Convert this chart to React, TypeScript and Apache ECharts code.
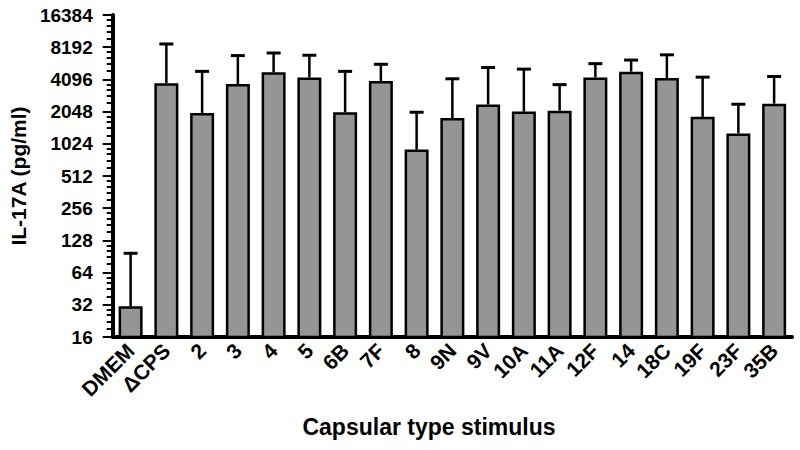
import React, { useEffect, useRef } from "react";
import * as echarts from "echarts";

const categories = ["DMEM", "ΔCPS", "2", "3", "4", "5", "6B", "7F", "8", "9N", "9V", "10A", "11A", "12F", "14", "18C", "19F", "23F", "35B"];
const means = [31, 3770, 1990, 3700, 4770, 4270, 2020, 3960, 904, 1780, 2380, 2048, 2090, 4270, 4840, 4210, 1830, 1280, 2430];
const errorTops = [97, 8780, 4870, 6840, 7230, 6890, 4870, 5670, 2020, 4150, 5290, 5110, 3660, 5750, 6210, 6950, 4300, 2400, 4360];

const FONT = "'Liberation Sans', Arial, sans-serif";

export default function App() {
  const ref = useRef<HTMLDivElement>(null);
  useEffect(() => {
    if (!ref.current) return;
    const chart = echarts.init(ref.current, null, { renderer: "svg" });
    chart.setOption({
      animation: false,
      backgroundColor: "#ffffff",
      textStyle: { fontFamily: FONT },
      grid: { left: 108, right: 8, top: 15, bottom: 113, containLabel: false },
      xAxis: {
        type: "category",
        data: categories,
        axisLine: { lineStyle: { color: "#000", width: 4 } },
        axisTick: { show: false },
        axisLabel: {
          rotate: 45,
          margin: 10,
          interval: 0,
          color: "#000",
          fontWeight: "bold",
          fontSize: 21,
          fontFamily: FONT,
        },
      },
      yAxis: {
        type: "log",
        logBase: 2,
        min: 16,
        max: 16384,
        interval: 1,
        name: "IL-17A (pg/ml)",
        nameLocation: "middle",
        nameRotate: 90,
        nameGap: 80,
        nameTextStyle: { color: "#000", fontWeight: "bold", fontSize: 21, fontFamily: FONT },
        axisLine: { show: true, lineStyle: { color: "#000", width: 4 } },
        axisTick: { show: true, length: 10, lineStyle: { color: "#000", width: 2 } },
        minorTick: { show: true, splitNumber: 5, length: 6, lineStyle: { color: "#000", width: 2 } },
        splitLine: { show: false },
        axisLabel: {
          margin: 20,
          color: "#000",
          fontWeight: "bold",
          fontSize: 19,
          fontFamily: FONT,
          formatter: (v: number) => String(Math.round(v)),
        },
      },
      series: [
        {
          type: "bar",
          data: means,
          barWidth: 24,
          clip: true,
          itemStyle: { color: "#959595", borderColor: "#000", borderWidth: 2.5 },
          z: 2,
        },
        {
          type: "custom",
          data: categories.map((_, i) => [i, means[i], errorTops[i]]),
          encode: { x: 0, y: [1, 2] },
          z: 3,
          renderItem: (params: any, api: any) => {
            const i = api.value(0);
            const base = api.coord([i, api.value(1)]);
            const top = api.coord([i, api.value(2)]);
            const half = 7;
            const style = { stroke: "#000", lineWidth: 2.5 };
            return {
              type: "group",
              children: [
                { type: "line", shape: { x1: base[0], y1: base[1], x2: top[0], y2: top[1] }, style },
                { type: "line", shape: { x1: top[0] - half, y1: top[1], x2: top[0] + half, y2: top[1] }, style: { stroke: "#000", lineWidth: 3 } },
              ],
            };
          },
        },
      ],
      graphic: [
        {
          type: "text",
          x: 429,
          y: 427,
          style: {
            text: "Capsular type stimulus",
            fill: "#000",
            font: `bold 23px ${FONT}`,
            textAlign: "center",
            textVerticalAlign: "middle",
          },
        },
      ],
    });
    return () => chart.dispose();
  }, []);
  return <div ref={ref} style={{ position: "fixed", left: 0, top: 0, width: 800, height: 450 }} />;
}
